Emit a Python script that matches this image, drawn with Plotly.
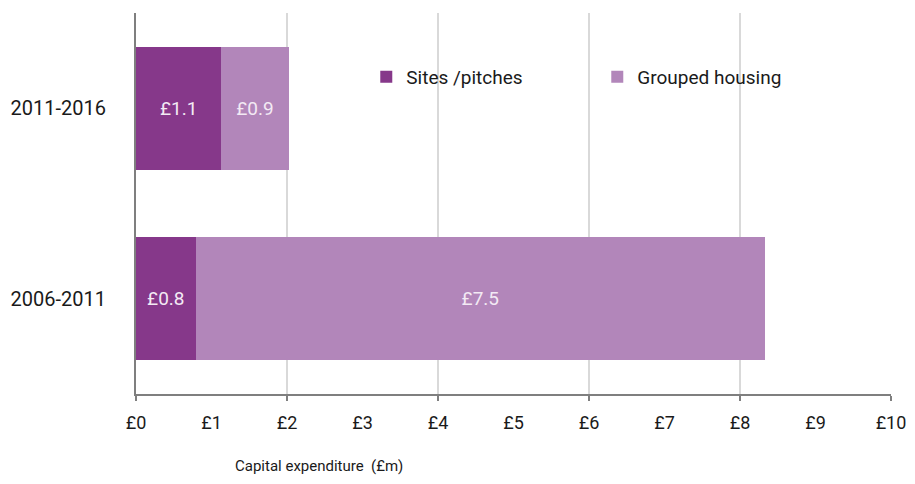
import plotly.graph_objects as go

periods = ["2006-2011", "2011-2016"]
sites_pitches = [0.79, 1.13]
grouped_housing = [7.54, 0.89]
x_labels = ["£" + str(i) for i in range(11)]

FONT = "Roboto, sans-serif"
dark = "#86388A"
light = "#B286BA"

fig = go.Figure()
fig.add_trace(go.Bar(
    y=periods, x=sites_pitches, name="Sites /pitches", orientation="h",
    marker=dict(color=dark, line=dict(width=0)),
    text=["£%.1f" % v for v in sites_pitches], textposition="inside",
    insidetextanchor="middle", textangle=0,
    textfont=dict(family=FONT, size=19, color="#F3EAF4"),
))
fig.add_trace(go.Bar(
    y=periods, x=grouped_housing, name="Grouped housing", orientation="h",
    marker=dict(color=light, line=dict(width=0)),
    text=["£%.1f" % v for v in grouped_housing], textposition="inside",
    insidetextanchor="middle", textangle=0,
    textfont=dict(family=FONT, size=19, color="#F3EAF4"),
))
# invisible trace so the label axis is drawn
fig.add_trace(go.Scatter(x=[0, 10], y=periods, xaxis="x2", mode="markers",
                         marker=dict(opacity=0), showlegend=False, hoverinfo="skip"))

# page body adds an 8px margin, so the figure is offset and the margins shifted
fig.update_layout(
    width=899, height=468,
    margin=dict(l=128, r=16, t=5, b=82, autoexpand=False),
    barmode="stack", bargap=0.355,
    plot_bgcolor="white", paper_bgcolor="white",
    font=dict(family=FONT, size=19, color="#1a1a1a"),
    uniformtext=dict(minsize=10, mode="show"),
    xaxis=dict(
        range=[0, 10], tick0=0, dtick=2, showticklabels=False, automargin=False,
        showgrid=True, gridcolor="#D9D9D9", gridwidth=1.5,
        ticks="outside", ticklen=5, tickwidth=2, tickcolor="#7F7F7F",
        showline=True, linecolor="#7F7F7F", linewidth=2, zeroline=False,
    ),
    xaxis2=dict(
        range=[0, 10], overlaying="x", side="bottom", anchor="y", automargin=False,
        tickmode="array", tickvals=list(range(11)), ticktext=x_labels,
        showgrid=False, zeroline=False, showline=False, ticks="",
        ticklabeloverflow="allow",
        ticklabelstandoff=16, tickfont=dict(family=FONT, size=18, color="#1a1a1a"),
    ),
    yaxis=dict(
        categoryorder="array", categoryarray=periods, automargin=False,
        showgrid=False, zeroline=False, showline=True, linecolor="#7F7F7F", linewidth=2,
        ticks="", ticklabelstandoff=24, tickfont=dict(family=FONT, size=20, color="#1a1a1a"),
    ),
    legend=dict(
        orientation="h", x=0.305, y=0.832, xanchor="left", yanchor="middle",
        traceorder="normal", entrywidth=186, entrywidthmode="pixels",
        font=dict(family=FONT, size=19, color="#1a1a1a"), bgcolor="rgba(0,0,0,0)",
    ),
    showlegend=True,
)
fig.add_annotation(
    text="Capital expenditure  (£m)", xref="paper", yref="paper",
    x=0.242, y=-0.16, xanchor="center", yanchor="top",
    showarrow=False, font=dict(family=FONT, size=15, color="#1a1a1a"),
)

fig.write_html("out.html")
